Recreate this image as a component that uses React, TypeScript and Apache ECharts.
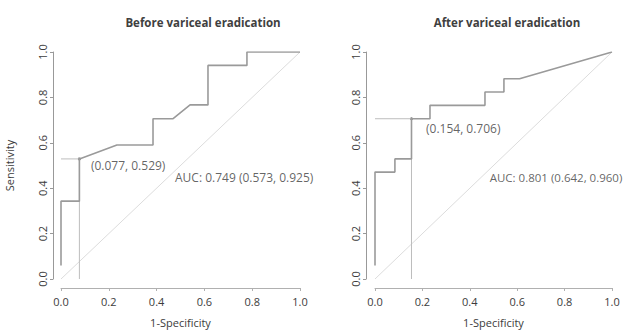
import React, { useEffect, useRef } from "react";
import * as echarts from "echarts";

const titles = ["Before variceal eradication", "After variceal eradication"];
const tickLabels = ["0.0", "0.2", "0.4", "0.6", "0.8", "1.0"];

// ROC curve points (1-Specificity, Sensitivity)
const fprBefore = [0, 0, 0.077, 0.077, 0.234, 0.385, 0.385, 0.469, 0.54, 0.615, 0.615, 0.778, 0.778, 1.0];
const tprBefore = [0.06, 0.343, 0.343, 0.529, 0.59, 0.59, 0.706, 0.706, 0.767, 0.767, 0.941, 0.941, 1.0, 1.0];

const fprAfter = [0, 0, 0.084, 0.084, 0.154, 0.154, 0.232, 0.232, 0.464, 0.464, 0.544, 0.544, 0.61, 1.0];
const tprAfter = [0.06, 0.471, 0.471, 0.529, 0.529, 0.706, 0.706, 0.765, 0.765, 0.824, 0.824, 0.882, 0.882, 1.0];

const thresholdBefore = [0.077, 0.529];
const thresholdAfter = [0.154, 0.706];
const aucTexts = ["AUC: 0.749 (0.573, 0.925)", "AUC: 0.801 (0.642, 0.960)"];
const aucPos = [
  [0.477, 0.445],
  [0.484, 0.445],
];
const aucFontSizes = [12, 11.5];

const FONT = "'Open Sans', 'DejaVu Sans', sans-serif";
const TEXT = "#3c3c3c";
const CURVE = "#9a9a9a";

export default function App() {
  const ref = useRef<HTMLDivElement>(null);
  useEffect(() => {
    if (!ref.current) return;
    const chart = echarts.init(ref.current, null, { renderer: "svg" });
    const grids = [
      { left: 61, top: 52, width: 239, height: 236 },
      { left: 375, top: 52, width: 237, height: 236 },
    ];
    const curves = [
      fprBefore.map((x, i) => [x, tprBefore[i]]),
      fprAfter.map((x, i) => [x, tprAfter[i]]),
    ];
    const thr = [thresholdBefore, thresholdAfter];
    const thrLabelOffset = [
      [10, 7],
      [13, 10],
    ];
    const xAxes: any[] = [];
    const yAxes: any[] = [];
    const series: any[] = [];
    [0, 1].forEach((k) => {
      xAxes.push({
        gridIndex: k,
        type: "value",
        min: 0,
        max: 1,
        interval: 0.2,
        offset: 9,
        name: "1-Specificity",
        nameLocation: "middle",
        nameGap: 29,
        nameTextStyle: { color: TEXT, fontSize: 11, fontFamily: FONT },
        axisLine: { show: true, onZero: false, lineStyle: { color: "#b0b0b0", width: 1 } },
        axisTick: { show: true, length: 3, lineStyle: { color: "#b0b0b0" } },
        axisLabel: {
          color: TEXT,
          fontSize: 11,
          fontFamily: FONT,
          margin: 8,
          formatter: (v: number) => tickLabels[Math.round(v / 0.2)],
        },
        splitLine: { show: false },
      });
      yAxes.push({
        gridIndex: k,
        type: "value",
        min: 0,
        max: 1,
        interval: 0.2,
        offset: k === 0 ? 8 : 9,
        name: k === 0 ? "Sensitivity" : "",
        nameLocation: "middle",
        nameGap: 38,
        nameTextStyle: { color: TEXT, fontSize: 11, fontFamily: FONT },
        axisLine: { show: true, onZero: false, lineStyle: { color: "#999999", width: 1 } },
        axisTick: { show: true, length: 3, lineStyle: { color: "#999999" } },
        axisLabel: {
          color: TEXT,
          fontSize: 11,
          fontFamily: FONT,
          rotate: 90,
          margin: 5,
          formatter: (v: number) => tickLabels[Math.round(v / 0.2)],
        },
        splitLine: { show: false },
      });
      // diagonal reference line
      series.push({
        type: "line",
        xAxisIndex: k,
        yAxisIndex: k,
        data: [
          [0, 0],
          [1, 1],
        ],
        symbol: "none",
        lineStyle: { color: "#dcdcdc", width: 1 },
        silent: true,
      });
      // threshold guide lines
      series.push({
        type: "line",
        xAxisIndex: k,
        yAxisIndex: k,
        data: [
          [0, thr[k][1]],
          [thr[k][0], thr[k][1]],
          [thr[k][0], 0],
        ],
        symbol: "none",
        lineStyle: { color: "#bdbdbd", width: 1 },
        silent: true,
      });
      // ROC curve
      series.push({
        type: "line",
        xAxisIndex: k,
        yAxisIndex: k,
        data: curves[k],
        symbol: "none",
        lineStyle: { color: CURVE, width: 1.6 },
        silent: true,
      });
      // threshold point + label
      series.push({
        type: "scatter",
        xAxisIndex: k,
        yAxisIndex: k,
        data: [thr[k]],
        symbolSize: 3,
        itemStyle: { color: "#555555" },
        label: {
          show: true,
          position: "right",
          offset: [thrLabelOffset[k][0] - 5, thrLabelOffset[k][1]],
          formatter: `(${thr[k][0].toFixed(3)}, ${thr[k][1].toFixed(3)})`,
          color: TEXT,
          fontSize: 12,
          fontFamily: FONT,
        },
        silent: true,
      });
      // AUC text
      series.push({
        type: "scatter",
        xAxisIndex: k,
        yAxisIndex: k,
        data: [aucPos[k]],
        symbolSize: 0,
        label: {
          show: true,
          position: "right",
          distance: 0,
          formatter: aucTexts[k],
          color: TEXT,
          fontSize: aucFontSizes[k],
          fontFamily: FONT,
        },
        silent: true,
      });
    });
    chart.setOption({
      animation: false,
      backgroundColor: "#ffffff",
      grid: grids,
      xAxis: xAxes,
      yAxis: yAxes,
      series,
      graphic: [
        {
          type: "text",
          x: 203,
          y: 22,
          style: {
            text: titles[0],
            fill: "#404040",
            font: `bold 11.5px ${FONT}`,
            align: "center",
            verticalAlign: "middle",
          },
        },
        {
          type: "text",
          x: 507,
          y: 22,
          style: {
            text: titles[1],
            fill: "#404040",
            font: `bold 11.5px ${FONT}`,
            align: "center",
            verticalAlign: "middle",
          },
        },
      ],
    });
    return () => chart.dispose();
  }, []);
  return (
    <div
      ref={ref}
      style={{ position: "absolute", left: 0, top: 0, width: 626, height: 333, overflow: "hidden" }}
    />
  );
}
